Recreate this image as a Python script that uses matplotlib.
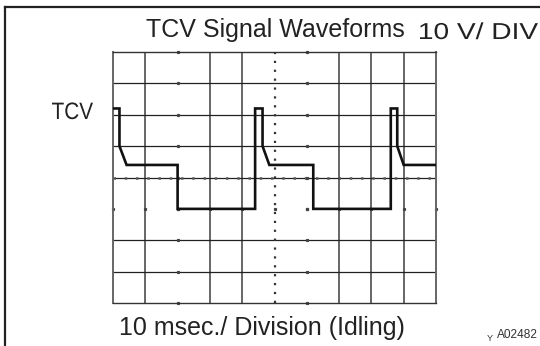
import numpy as np
import matplotlib.pyplot as plt
from matplotlib.textpath import TextPath
from matplotlib.patches import PathPatch
from matplotlib.font_manager import FontProperties
from matplotlib.transforms import Affine2D

plt.rcParams['font.family'] = ['Liberation Sans', 'DejaVu Sans']

# TCV signal at idle, 10 ms / div horizontally, 10 V / div vertically
time_ms = [0.0, 2.0, 2.0, 4.2, 20.0, 20.0, 44.0, 44.0, 46.3, 46.3, 48.4,
           62.0, 62.0, 86.0, 86.0, 88.0, 88.0, 90.0, 100.0]
volts = [62, 62, 50, 44, 44, 30, 30, 62, 62, 50, 44,
         44, 30, 30, 62, 62, 50, 44, 44]

ms_per_div = 10
v_per_div = 10
n_xdiv = 10
n_ydiv = 8
# graticule lines that are printed (some are left out on the sheet)
xlines = [1, 3, 4, 7, 8, 9]
ylines = [1, 2, 5, 6, 7]
x_center = 5
y_center = 4
x_gaps = [2, 6]
y_gaps = [3]

W, H = 540, 346
fig = plt.figure(figsize=(W / 100, H / 100), dpi=100)
fig.patch.set_facecolor('white')


def stretched_text(s, x0, x1, baseline, cap_px, color='#222222'):
    """Draw text as a path fitted between x0 and x1 (pixels) with a given cap height."""
    fp = FontProperties(family='Liberation Sans')
    tp = TextPath((0, 0), s, size=1, prop=fp)
    ext = tp.get_extents()
    sy = cap_px / 0.716
    sx = (x1 - x0) / ext.width
    tr = (Affine2D().translate(-ext.x0, 0).scale(sx / W, sy / H)
          .translate(x0 / W, 1 - baseline / H) + fig.transFigure)
    fig.add_artist(PathPatch(tp, transform=tr, color=color, lw=0))


# frame around the figure (left and top edges only)
fig.add_artist(plt.Line2D([5 / W, 5 / W], [0, 1 - 7 / H], transform=fig.transFigure,
                          color='#222222', lw=1.6))
fig.add_artist(plt.Line2D([5 / W, 1], [1 - 7 / H, 1 - 7 / H], transform=fig.transFigure,
                          color='#222222', lw=1.6))

left, right, top, bottom = 113, 436, 52, 303
ax = fig.add_axes([left / W, 1 - bottom / H, (right - left) / W, (bottom - top) / H])
xmax = n_xdiv * ms_per_div
ymax = n_ydiv * v_per_div
ax.set_xlim(0, xmax)
ax.set_ylim(0, ymax)
ax.set_xticks([])
ax.set_yticks([])
for side in ['left', 'right']:
    ax.spines[side].set_color('#666666')
    ax.spines[side].set_linewidth(1.4)
for side in ['top', 'bottom']:
    ax.spines[side].set_color('#333333')
    ax.spines[side].set_linewidth(1.0)

for d in xlines:
    ax.axvline(d * ms_per_div, color='#666666', lw=1.4)
for d in ylines:
    ax.axhline(d * v_per_div, color='#222222', lw=0.9)

# centre cross: dotted vertical, solid + dotted horizontal
ax.axvline(x_center * ms_per_div, color='#333333', lw=1.6, ls=(0, (1, 3)))
ax.axhline(y_center * v_per_div, color='#222222', lw=0.9)
ax.axhline(y_center * v_per_div, color='#555555', lw=1.8, ls=(0, (1, 3.5)))

# small marks where the missing graticule lines cross
for d in x_gaps:
    for k in range(n_ydiv + 1):
        ax.plot(d * ms_per_div, k * v_per_div, marker='s', ms=1.3, color='#444444',
                clip_on=False)
for d in y_gaps:
    for k in range(n_xdiv + 1):
        ax.plot(k * ms_per_div, d * v_per_div, marker='s', ms=1.3, color='#444444',
                clip_on=False)

ax.plot(time_ms, volts, color='#111111', lw=1.9, solid_joinstyle='miter', zorder=5)

fig.text(275 / W, 1 - 37 / H, 'TCV Signal Waveforms', fontsize=18, ha='center',
         va='baseline', color='#222222')
stretched_text('10 V/ DIV', 420, 538, 39, 16.5)
stretched_text('TCV', 52, 93, 119, 17)
fig.text(262 / W, 1 - 335 / H, '10 msec./ Division (Idling)', fontsize=18,
         ha='center', va='baseline', color='#222222')
fig.text(487 / W, 1 - 341 / H, 'Y', fontsize=6.5, ha='left', va='baseline',
         color='#333333')
fig.text(538 / W, 1 - 338 / H, 'A02482', fontsize=8.6, ha='right', va='baseline',
         color='#333333')

fig.savefig('out.png', dpi=100)
